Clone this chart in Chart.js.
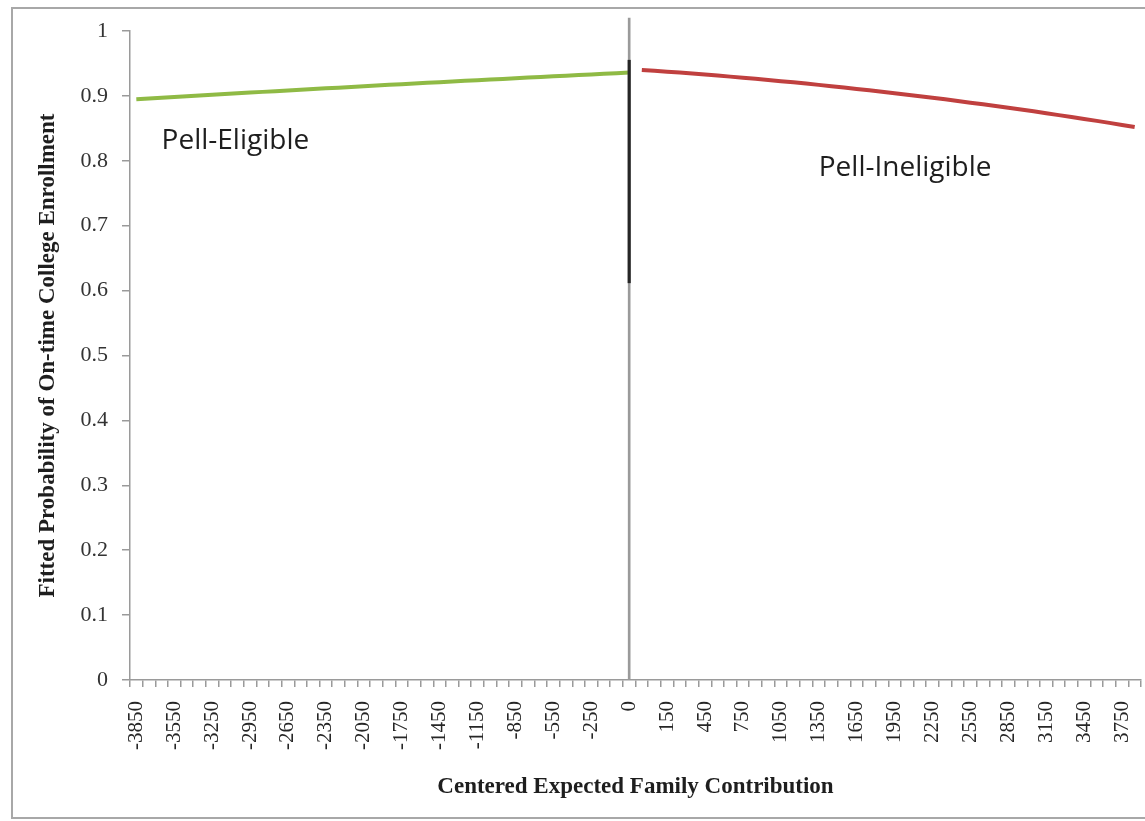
<!DOCTYPE html>
<html lang="en">
<head>
    <meta charset="UTF-8">
    <title>Fitted Probability of On-time College Enrollment</title>
    <script src="https://cdn.jsdelivr.net/npm/chart.js"></script>
    <style>
        html, body { margin: 0; padding: 0; background: #fff; overflow: hidden; }
        .frame {
            position: absolute;
            left: 11px;
            top: 7px;
            width: 1200px;
            height: 808px;
            border: 2px solid #a8a8a8;
        }
        #enrollChart { position: absolute; left: 0; top: 0; }
    </style>
</head>
<body>
    <div class="frame"></div>
    <canvas id="enrollChart" width="1145" height="821"></canvas>

    <script>
        // Categories: centered EFC, one per 100 (the cutoff 0 appears once per side)
        const categories = [
            '-3850', '-3750', '-3650', '-3550', '-3450', '-3350', '-3250', '-3150', '-3050', '-2950',
            '-2850', '-2750', '-2650', '-2550', '-2450', '-2350', '-2250', '-2150', '-2050', '-1950',
            '-1850', '-1750', '-1650', '-1550', '-1450', '-1350', '-1250', '-1150', '-1050', '-950',
            '-850', '-750', '-650', '-550', '-450', '-350', '-250', '-150', '-50', '0',
            '0', '50', '150', '250', '350', '450', '550', '650', '750', '850',
            '950', '1050', '1150', '1250', '1350', '1450', '1550', '1650', '1750', '1850',
            '1950', '2050', '2150', '2250', '2350', '2450', '2550', '2650', '2750', '2850',
            '2950', '3050', '3150', '3250', '3350', '3450', '3550', '3650', '3750', '3850'
        ];

        // Pell-eligible side, -3850 .. 0
        const eligibleValues = [
            0.8950, 0.8961, 0.8973, 0.8984, 0.8996, 0.9007, 0.9018, 0.9029, 0.9040, 0.9051,
            0.9062, 0.9073, 0.9084, 0.9095, 0.9106, 0.9117, 0.9127, 0.9138, 0.9149, 0.9159,
            0.9170, 0.9180, 0.9191, 0.9201, 0.9211, 0.9222, 0.9232, 0.9242, 0.9252, 0.9262,
            0.9272, 0.9282, 0.9292, 0.9302, 0.9311, 0.9321, 0.9331, 0.9340, 0.9350, 0.9360
        ];

        // Pell-ineligible side, 0 .. 3850
        const ineligibleValues = [
            0.9400, 0.9387, 0.9373, 0.9359, 0.9344, 0.9329, 0.9313, 0.9297, 0.9280, 0.9263,
            0.9246, 0.9227, 0.9209, 0.9190, 0.9170, 0.9150, 0.9129, 0.9108, 0.9087, 0.9065,
            0.9042, 0.9019, 0.8995, 0.8971, 0.8947, 0.8922, 0.8896, 0.8870, 0.8844, 0.8817,
            0.8790, 0.8762, 0.8733, 0.8704, 0.8675, 0.8645, 0.8615, 0.8584, 0.8552, 0.8520
        ];

        // cutoff marker at EFC = 0
        const cutoffLabel = '0';
        const cutoffFullRange = [0, 1.02];
        const cutoffDarkRange = [0.612, 0.955];

        const yTicks = [0, 0.1, 0.2, 0.3, 0.4, 0.5, 0.6, 0.7, 0.8, 0.9, 1];

        // text notes: [text, category, value]
        const notes = [
            ['Pell-Eligible', '-3650', 0.83],
            ['Pell-Ineligible', '1350', 0.789]
        ];

        const cutoffIndex = categories.indexOf(cutoffLabel);
        const nEligible = eligibleValues.length;

        const eligibleData = categories.map((c, i) => i < nEligible ? eligibleValues[i] : null);
        const ineligibleData = categories.map((c, i) => i >= nEligible ? ineligibleValues[i - nEligible] : null);
        const cutoffDark = categories.map((c, i) => i === cutoffIndex ? cutoffDarkRange : null);
        const cutoffFull = categories.map((c, i) => i === cutoffIndex ? cutoffFullRange : null);

        const serif = '"Liberation Serif", "Times New Roman", serif';

        // draws the "Pell-Eligible" / "Pell-Ineligible" notes
        const notesPlugin = {
            id: 'notes',
            afterDatasetsDraw(chart) {
                const ctx = chart.ctx;
                const xs = chart.scales.x, ys = chart.scales.y;
                ctx.save();
                ctx.font = '28px "Open Sans", "Noto Sans", sans-serif';
                ctx.fillStyle = '#1e1e1e';
                ctx.textAlign = 'left';
                ctx.textBaseline = 'middle';
                notes.forEach(([text, cat, val]) => {
                    ctx.fillText(text, xs.getPixelForValue(categories.indexOf(cat)), ys.getPixelForValue(val));
                });
                ctx.restore();
            }
        };

        const ctx = document.getElementById('enrollChart').getContext('2d');

        const enrollChart = new Chart(ctx, {
            type: 'line',
            data: {
                labels: categories,
                datasets: [
                    {
                        type: 'bar',
                        label: 'Cutoff',
                        data: cutoffDark,
                        backgroundColor: '#262626',
                        barThickness: 2.5,
                        grouped: false,
                        clip: false
                    },
                    {
                        type: 'bar',
                        label: 'Cutoff line',
                        data: cutoffFull,
                        backgroundColor: '#9a9a9a',
                        barThickness: 2,
                        grouped: false,
                        clip: false
                    },
                    {
                        label: 'Pell-Eligible',
                        data: eligibleData,
                        borderColor: '#8fba45',
                        borderWidth: 4,
                        pointRadius: 0,
                        tension: 0
                    },
                    {
                        label: 'Pell-Ineligible',
                        data: ineligibleData,
                        borderColor: '#c0403f',
                        borderWidth: 4,
                        pointRadius: 0,
                        tension: 0
                    }
                ]
            },
            options: {
                responsive: false,
                animation: false,
                devicePixelRatio: 1,
                layout: { padding: { left: 0, top: 31, right: 4, bottom: 0 } },
                plugins: {
                    legend: { display: false },
                    tooltip: { enabled: false }
                },
                scales: {
                    x: {
                        type: 'category',
                        offset: true,
                        afterFit(scale) {
                            scale.height = 141;
                            scale.paddingLeft = 0;
                            scale.paddingRight = 0;
                        },
                        grid: {
                            offset: true,
                            drawOnChartArea: false,
                            tickLength: 7,
                            color: '#9a9a9a',
                            lineWidth: 1.5
                        },
                        border: { color: '#9a9a9a', width: 1.5 },
                        ticks: {
                            autoSkip: false,
                            minRotation: 90,
                            maxRotation: 90,
                            padding: 14,
                            color: '#262626',
                            font: { family: serif, size: 21 },
                            callback: (v, i) => i % 3 === 0 ? categories[i] : ''
                        },
                        title: {
                            display: true,
                            text: 'Centered Expected Family Contribution',
                            color: '#1e1e1e',
                            font: { family: serif, size: 23, weight: 'bold' },
                            padding: { top: 0, bottom: 20 }
                        }
                    },
                    y: {
                        min: 0,
                        max: 1,
                        afterFit(scale) { scale.width = 130; },
                        afterBuildTicks(scale) { scale.ticks = yTicks.map(v => ({ value: v })); },
                        grid: {
                            drawOnChartArea: false,
                            tickLength: 8,
                            color: '#9a9a9a',
                            lineWidth: 1.5
                        },
                        border: { color: '#9a9a9a', width: 1.5 },
                        ticks: {
                            padding: 14,
                            color: '#333',
                            font: { family: serif, size: 22 },
                            callback: v => String(Math.round(v * 10) / 10)
                        },
                        title: {
                            display: true,
                            text: 'Fitted Probability of On-time College Enrollment',
                            color: '#1e1e1e',
                            font: { family: serif, size: 23, weight: 'bold' },
                            padding: { top: 34, bottom: 0 }
                        }
                    }
                }
            },
            plugins: [notesPlugin]
        });
    </script>
</body>
</html>
